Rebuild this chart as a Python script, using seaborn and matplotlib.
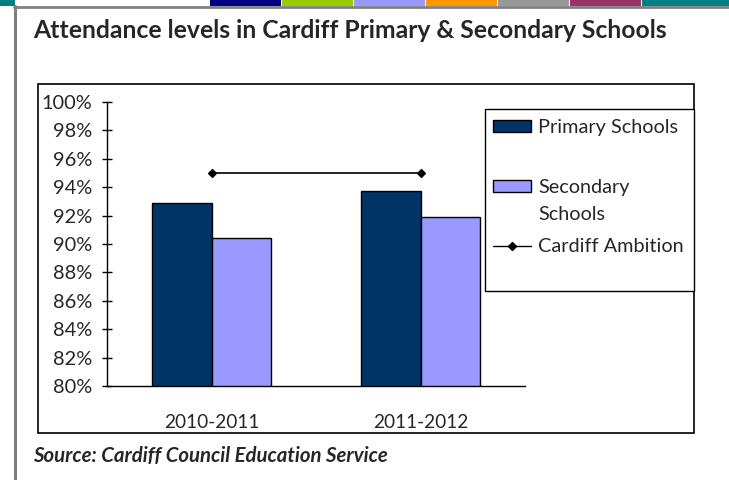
import numpy as np
import pandas as pd
import matplotlib.pyplot as plt
import seaborn as sns
from matplotlib.patches import Rectangle
from matplotlib.lines import Line2D

years = ["2010-2011", "2011-2012"]
primary = [92.9, 93.7]
secondary = [90.4, 91.9]
ambition = [95.0, 95.0]
series = ["Primary Schools", "Secondary Schools"]
y_ticks = list(range(80, 101, 2))

navy = "#003366"
lilac = "#9999FF"

df = pd.DataFrame({
    "year": years * 2,
    "value": primary + secondary,
    "school": [series[0]] * len(years) + [series[1]] * len(years),
})

sns.set_theme(style="white")
plt.rcParams["font.family"] = ["Lato", "DejaVu Sans"]

W, H = 729, 480
fig = plt.figure(figsize=(W / 100, H / 100), dpi=100)


def fx(px):
    return px / W


def fy(py):
    return 1 - py / H


# decorative header strip
strip = [(0, 15, "#008080"), (210, 281, "#000080"), (282, 353, "#99CC00"),
         (354, 425, "#9999FF"), (426, 497, "#FF9900"), (498, 569, "#999999"),
         (570, 641, "#993366"), (642, 729, "#008080")]
for x0, x1, c in strip:
    fig.add_artist(Rectangle((fx(x0), fy(6)), fx(x1 - x0), 6 / H,
                             transform=fig.transFigure, color=c, lw=0))
fig.add_artist(Line2D([fx(14), 1], [fy(7), fy(7)], transform=fig.transFigure,
                      color="#808080", lw=2))
fig.add_artist(Line2D([fx(15), fx(15)], [fy(6), 0], transform=fig.transFigure,
                      color="#808080", lw=2.2))

# chart frame
fig.add_artist(Rectangle((fx(38), fy(433)), fx(694 - 38), (433 - 84) / H,
                         transform=fig.transFigure, fill=False,
                         edgecolor="black", lw=1.2))

fig.text(fx(33), fy(31), "Attendance levels in Cardiff Primary & Secondary Schools",
         fontsize=17.8, fontweight="bold", va="center", ha="left")
fig.text(fx(33), fy(456), "Source: Cardiff Council Education Service",
         fontsize=14.7, fontweight="bold", style="italic", va="center", ha="left")

ax = fig.add_axes([fx(107), fy(386), fx(525 - 107), (386 - 102) / H])
sns.barplot(data=df, x="year", y="value", hue="school", palette=[navy, lilac],
            saturation=1, width=0.565, edgecolor="black", linewidth=1,
            errorbar=None, legend=False, ax=ax)
sns.pointplot(x=years, y=ambition, color="black", markers="D", markersize=4,
              linewidth=1.2, errorbar=None, ax=ax)

ax.set_xlim(-0.5, len(years) - 0.5)
ax.set_ylim(80, 100)
ax.set_yticks(y_ticks)
ax.set_yticklabels([f"{v}%" for v in y_ticks], fontsize=14.4)
ax.set_xticks(range(len(years)))
ax.set_xticklabels(years, fontsize=13.7)
ax.set_xticks(np.arange(-0.5, len(years), 1.0), minor=True)
ax.tick_params(axis="x", which="major", length=0, pad=20)
ax.tick_params(axis="x", which="minor", length=7.2, direction="inout", width=1, color="black")
ax.tick_params(axis="y", which="major", length=7.2, direction="inout", width=1,
               color="black", pad=7, left=True)
ax.set_xlabel("")
ax.set_ylabel("")
for s in ["top", "right"]:
    ax.spines[s].set_visible(False)
for s in ["left", "bottom"]:
    ax.spines[s].set_color("black")
    ax.spines[s].set_linewidth(1)

# legend: frame plus one entry per row, placed like the original
fig.add_artist(Rectangle((fx(485), fy(291)), fx(694 - 485), (291 - 109) / H,
                         transform=fig.transFigure, facecolor="white",
                         edgecolor="black", lw=1, zorder=3))

blank = Rectangle((0, 0), 1, 1, facecolor="none", edgecolor="none")
entries = [
    (Rectangle((0, 0), 1, 1, facecolor=navy, edgecolor="black", lw=1), "Primary Schools", 128),
    (Rectangle((0, 0), 1, 1, facecolor=lilac, edgecolor="black", lw=1), "Secondary", 188),
    (blank, "Schools", 214),
    (Line2D([], [], color="black", lw=1, marker="D", markersize=4), "Cardiff Ambition", 247),
]
for handle, label, yc in entries:
    leg = fig.legend([handle], [label], loc="center left",
                     bbox_to_anchor=(fx(493), fy(yc)), fontsize=14.3,
                     frameon=False, borderaxespad=0, borderpad=0,
                     handlelength=1.9, handleheight=0.55, handletextpad=0.36)
    leg.set_zorder(4)

fig.savefig("out.png", dpi=100)
